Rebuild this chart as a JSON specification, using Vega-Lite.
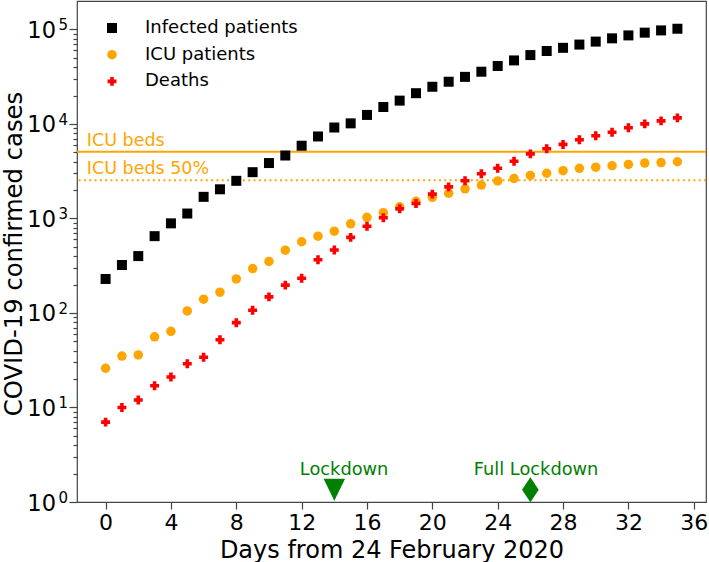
{
  "$schema": "https://vega.github.io/schema/vega-lite/v6.json",
  "width": 629,
  "height": 501,
  "autosize": {"type": "none"},
  "padding": {"left": 77, "top": 1, "right": 3, "bottom": 60},
  "config": {
    "font": "DejaVu Sans",
    "view": {"stroke": "#444", "strokeWidth": 1.2},
    "axis": {"titleFontWeight": "normal", "labelColor": "black", "titleColor": "black", "tickColor": "#444", "tickWidth": 1.2}
  },
  "datasets": {
    "beds": [
      {"value": 5090, "label": "ICU beds"},
      {"value": 2545, "label": "ICU beds 50%"}
    ],
    "events": [
      {"day": 14, "event": "Lockdown", "label_day": 14.6},
      {"day": 26, "event": "Full Lockdown", "label_day": 26.35}
    ],
    "cases": [
      {"day": 0, "series": "Infected patients", "count": 229},
      {"day": 1, "series": "Infected patients", "count": 322},
      {"day": 2, "series": "Infected patients", "count": 400},
      {"day": 3, "series": "Infected patients", "count": 650},
      {"day": 4, "series": "Infected patients", "count": 888},
      {"day": 5, "series": "Infected patients", "count": 1128},
      {"day": 6, "series": "Infected patients", "count": 1694},
      {"day": 7, "series": "Infected patients", "count": 2036},
      {"day": 8, "series": "Infected patients", "count": 2502},
      {"day": 9, "series": "Infected patients", "count": 3089},
      {"day": 10, "series": "Infected patients", "count": 3858},
      {"day": 11, "series": "Infected patients", "count": 4636},
      {"day": 12, "series": "Infected patients", "count": 5883},
      {"day": 13, "series": "Infected patients", "count": 7375},
      {"day": 14, "series": "Infected patients", "count": 9172},
      {"day": 15, "series": "Infected patients", "count": 10149},
      {"day": 16, "series": "Infected patients", "count": 12462},
      {"day": 17, "series": "Infected patients", "count": 15113},
      {"day": 18, "series": "Infected patients", "count": 17660},
      {"day": 19, "series": "Infected patients", "count": 21157},
      {"day": 20, "series": "Infected patients", "count": 24747},
      {"day": 21, "series": "Infected patients", "count": 27980},
      {"day": 22, "series": "Infected patients", "count": 31506},
      {"day": 23, "series": "Infected patients", "count": 35713},
      {"day": 24, "series": "Infected patients", "count": 41035},
      {"day": 25, "series": "Infected patients", "count": 47021},
      {"day": 26, "series": "Infected patients", "count": 53578},
      {"day": 27, "series": "Infected patients", "count": 59138},
      {"day": 28, "series": "Infected patients", "count": 63927},
      {"day": 29, "series": "Infected patients", "count": 69176},
      {"day": 30, "series": "Infected patients", "count": 74386},
      {"day": 31, "series": "Infected patients", "count": 80539},
      {"day": 32, "series": "Infected patients", "count": 86498},
      {"day": 33, "series": "Infected patients", "count": 92472},
      {"day": 34, "series": "Infected patients", "count": 97689},
      {"day": 35, "series": "Infected patients", "count": 101739},
      {"day": 0, "series": "ICU patients", "count": 26},
      {"day": 1, "series": "ICU patients", "count": 35},
      {"day": 2, "series": "ICU patients", "count": 36},
      {"day": 3, "series": "ICU patients", "count": 56},
      {"day": 4, "series": "ICU patients", "count": 64},
      {"day": 5, "series": "ICU patients", "count": 105},
      {"day": 6, "series": "ICU patients", "count": 140},
      {"day": 7, "series": "ICU patients", "count": 166},
      {"day": 8, "series": "ICU patients", "count": 229},
      {"day": 9, "series": "ICU patients", "count": 295},
      {"day": 10, "series": "ICU patients", "count": 351},
      {"day": 11, "series": "ICU patients", "count": 462},
      {"day": 12, "series": "ICU patients", "count": 567},
      {"day": 13, "series": "ICU patients", "count": 650},
      {"day": 14, "series": "ICU patients", "count": 733},
      {"day": 15, "series": "ICU patients", "count": 877},
      {"day": 16, "series": "ICU patients", "count": 1028},
      {"day": 17, "series": "ICU patients", "count": 1153},
      {"day": 18, "series": "ICU patients", "count": 1328},
      {"day": 19, "series": "ICU patients", "count": 1518},
      {"day": 20, "series": "ICU patients", "count": 1672},
      {"day": 21, "series": "ICU patients", "count": 1851},
      {"day": 22, "series": "ICU patients", "count": 2060},
      {"day": 23, "series": "ICU patients", "count": 2257},
      {"day": 24, "series": "ICU patients", "count": 2498},
      {"day": 25, "series": "ICU patients", "count": 2655},
      {"day": 26, "series": "ICU patients", "count": 2857},
      {"day": 27, "series": "ICU patients", "count": 3009},
      {"day": 28, "series": "ICU patients", "count": 3204},
      {"day": 29, "series": "ICU patients", "count": 3396},
      {"day": 30, "series": "ICU patients", "count": 3489},
      {"day": 31, "series": "ICU patients", "count": 3612},
      {"day": 32, "series": "ICU patients", "count": 3732},
      {"day": 33, "series": "ICU patients", "count": 3856},
      {"day": 34, "series": "ICU patients", "count": 3906},
      {"day": 35, "series": "ICU patients", "count": 3981},
      {"day": 0, "series": "Deaths", "count": 7},
      {"day": 1, "series": "Deaths", "count": 10},
      {"day": 2, "series": "Deaths", "count": 12},
      {"day": 3, "series": "Deaths", "count": 17},
      {"day": 4, "series": "Deaths", "count": 21},
      {"day": 5, "series": "Deaths", "count": 29},
      {"day": 6, "series": "Deaths", "count": 34},
      {"day": 7, "series": "Deaths", "count": 52},
      {"day": 8, "series": "Deaths", "count": 79},
      {"day": 9, "series": "Deaths", "count": 107},
      {"day": 10, "series": "Deaths", "count": 148},
      {"day": 11, "series": "Deaths", "count": 197},
      {"day": 12, "series": "Deaths", "count": 233},
      {"day": 13, "series": "Deaths", "count": 366},
      {"day": 14, "series": "Deaths", "count": 463},
      {"day": 15, "series": "Deaths", "count": 631},
      {"day": 16, "series": "Deaths", "count": 827},
      {"day": 17, "series": "Deaths", "count": 1016},
      {"day": 18, "series": "Deaths", "count": 1266},
      {"day": 19, "series": "Deaths", "count": 1441},
      {"day": 20, "series": "Deaths", "count": 1809},
      {"day": 21, "series": "Deaths", "count": 2158},
      {"day": 22, "series": "Deaths", "count": 2503},
      {"day": 23, "series": "Deaths", "count": 2978},
      {"day": 24, "series": "Deaths", "count": 3405},
      {"day": 25, "series": "Deaths", "count": 4032},
      {"day": 26, "series": "Deaths", "count": 4825},
      {"day": 27, "series": "Deaths", "count": 5476},
      {"day": 28, "series": "Deaths", "count": 6077},
      {"day": 29, "series": "Deaths", "count": 6820},
      {"day": 30, "series": "Deaths", "count": 7503},
      {"day": 31, "series": "Deaths", "count": 8165},
      {"day": 32, "series": "Deaths", "count": 9134},
      {"day": 33, "series": "Deaths", "count": 10023},
      {"day": 34, "series": "Deaths", "count": 10779},
      {"day": 35, "series": "Deaths", "count": 11591}
    ]
  },
  "layer": [
    {
      "data": {"name": "beds"},
      "mark": {"type": "rule", "color": "#FFA500", "strokeWidth": 2},
      "encoding": {
        "y": {
          "field": "value", "type": "quantitative",
          "scale": {"type": "log", "domain": [1, 200000], "nice": false},
          "axis": {
            "orient": "left",
            "values": [2,3,4,5,6,7,8,9,20,30,40,50,60,70,80,90,200,300,400,500,600,700,800,900,2000,3000,4000,5000,6000,7000,8000,9000,20000,30000,40000,50000,60000,70000,80000,90000],
            "labels": false, "tickSize": 4, "grid": false, "domain": false, "title": null
          }
        },
        "strokeDash": {
          "field": "label", "type": "nominal",
          "scale": {"domain": ["ICU beds", "ICU beds 50%"], "range": [[1, 0], [2, 3.3]]},
          "legend": null
        }
      }
    },
    {
      "data": {"name": "beds"},
      "mark": {"type": "text", "align": "left", "baseline": "alphabetic", "dy": -6, "fontSize": 17.5, "color": "#FFA500"},
      "encoding": {
        "x": {"datum": -1.15, "type": "quantitative"},
        "y": {
          "field": "value", "type": "quantitative",
          "axis": {
            "orient": "left",
            "values": [1, 10, 100, 1000, 10000, 100000],
            "labelExpr": "'' + round(log(datum.value)/LN10)",
            "ticks": false, "tickSize": 0, "labelFontSize": 15, "labelPadding": 9.5, "labelOffset": -4.5,
            "grid": false, "domain": false, "title": null
          }
        },
        "text": {"field": "label"}
      }
    },
    {
      "data": {"name": "cases"},
      "mark": {"type": "point", "filled": true, "opacity": 1, "strokeWidth": 0},
      "encoding": {
        "x": {
          "field": "day", "type": "quantitative",
          "scale": {"domain": [-1.75, 36.75], "nice": false, "zero": false},
          "axis": {
            "values": [0,4,8,12,16,20,24,28,32,36],
            "tickSize": 7, "labelFontSize": 22, "labelPadding": 3,
            "title": "Days from 24 February 2020", "titleFontSize": 24, "titlePadding": 5,
            "grid": false, "domain": false, "labelFlush": false
          }
        },
        "y": {
          "field": "count", "type": "quantitative",
          "axis": {
            "orient": "left",
            "values": [1, 10, 100, 1000, 10000, 100000],
            "labelExpr": "'10'",
            "tickSize": 8, "labelFontSize": 22.5, "labelPadding": 13.5, "labelOffset": 1,
            "title": "COVID-19 confirmed cases", "titleFontSize": 24.3,
            "titleX": -55.6, "titleY": 252.5, "titleBaseline": "alphabetic", "titleAlign": "center", "titleAngle": 270,
            "grid": false, "domain": false
          }
        },
        "color": {
          "field": "series", "type": "nominal",
          "scale": {"domain": ["Infected patients", "ICU patients", "Deaths"], "range": ["#000000", "#FFA500", "#FF0000"]},
          "legend": {"title": null, "orient": "none", "legendX": 26, "legendY": 18, "labelFontSize": 18, "symbolSize": 110, "rowPadding": 8.7, "labelOffset": 24, "padding": 0, "symbolStrokeWidth": 0}
        },
        "shape": {
          "field": "series", "type": "nominal",
          "scale": {"domain": ["Infected patients", "ICU patients", "Deaths"], "range": ["square", "circle", "cross"]},
          "legend": {"title": null, "orient": "none", "legendX": 26, "legendY": 18, "labelFontSize": 18, "symbolSize": 110, "rowPadding": 8.7, "labelOffset": 24, "padding": 0, "symbolStrokeWidth": 0}
        },
        "size": {
          "field": "series", "type": "nominal",
          "scale": {"domain": ["Infected patients", "ICU patients", "Deaths"], "range": [100, 80, 120]},
          "legend": null
        }
      }
    },
    {
      "data": {"name": "events"},
      "transform": [{"filter": "datum.event === 'Lockdown'"}],
      "mark": {"type": "point", "filled": true, "opacity": 1, "color": "#008000", "size": 625, "strokeWidth": 0, "shape": "M-0.86,-0.88L0.86,-0.88L0,0.88Z"},
      "encoding": {
        "x": {"field": "day", "type": "quantitative"},
        "y": {"datum": 1.35, "type": "quantitative", "axis": null}
      }
    },
    {
      "data": {"name": "events"},
      "transform": [{"filter": "datum.event === 'Full Lockdown'"}],
      "mark": {"type": "point", "filled": true, "opacity": 1, "color": "#008000", "size": 625, "strokeWidth": 0, "shape": "M0,-1L0.667,0L0,1L-0.667,0Z"},
      "encoding": {
        "x": {"field": "day", "type": "quantitative"},
        "y": {"datum": 1.35, "type": "quantitative", "axis": null}
      }
    },
    {
      "data": {"name": "events"},
      "mark": {"type": "text", "align": "center", "baseline": "alphabetic", "fontSize": 17.8, "color": "#008000"},
      "encoding": {
        "x": {"field": "label_day", "type": "quantitative"},
        "y": {"datum": 1.95, "type": "quantitative", "axis": null},
        "text": {"field": "event"}
      }
    }
  ],
  "resolve": {"axis": {"y": "independent"}}
}
